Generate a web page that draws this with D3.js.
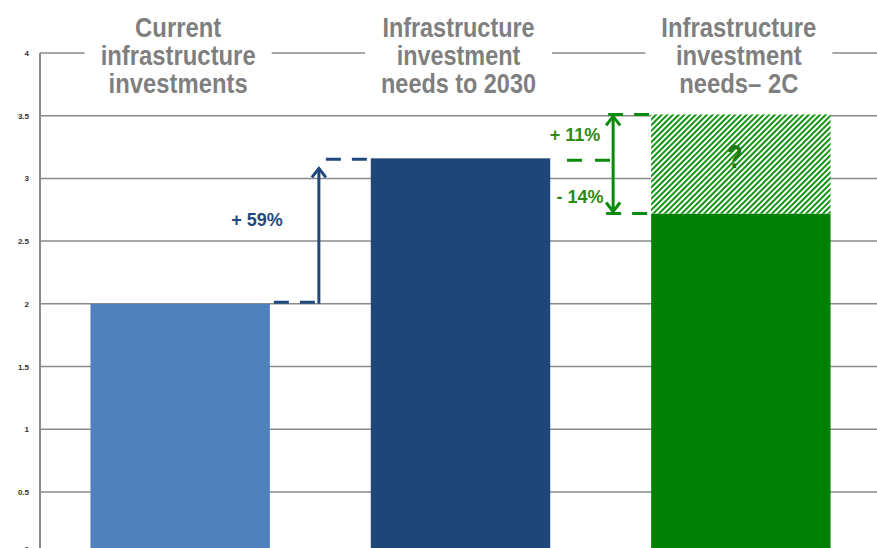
<!DOCTYPE html>
<html><head><meta charset="utf-8">
<script src="https://cdn.jsdelivr.net/npm/d3@7/dist/d3.min.js"></script>
<style>body{margin:0;background:#fff}svg{display:block}</style>
</head><body>
<svg id="chart" width="877" height="548"></svg>
<script>
// ---- data ----
const categories = ["Current infrastructure investments", "Infrastructure investment needs to 2030", "Infrastructure investment needs– 2C"];
const categoryLines = [["Current", "infrastructure", "investments"], ["Infrastructure", "investment", "needs to 2030"], ["Infrastructure", "investment", "needs– 2C"]];
const values = [2.0, 3.16, 2.72];
const rangeTop = [null, null, 3.51];
const yTicks = [0, 0.5, 1, 1.5, 2, 2.5, 3, 3.5, 4];
const yTickLabels = ["0", "0.5", "1", "1.5", "2", "2.5", "3", "3.5", "4"];
const changeLabels = ["+ 59%", "+ 11%", "- 14%"];
const barColors = ["#4F81BD", "#1F4679", "#008000"];

const W = 877, H = 548;
const svg = d3.select("#chart");
const x = d3.scaleBand().domain(categories).range([40, 881]).paddingInner(0.36).paddingOuter(0.18);
const y = d3.scaleLinear().domain([0, 4]).range([554.6, 53]);
const bw = x.bandwidth();
const FONT = "Liberation Sans, Arial, sans-serif";

// hatch pattern
const defs = svg.append("defs");
const pat = defs.append("pattern").attr("id", "hatch").attr("patternUnits", "userSpaceOnUse")
  .attr("width", 4).attr("height", 4).attr("patternTransform", "rotate(45)");
pat.append("rect").attr("width", 4).attr("height", 4).attr("fill", "#ffffff");
pat.append("rect").attr("width", 2).attr("height", 4).attr("fill", "#139313");

// gridlines
svg.append("g").selectAll("line").data(yTicks).join("line")
  .attr("x1", 40).attr("x2", W).attr("y1", d => y(d)).attr("y2", d => y(d))
  .attr("stroke", "#8a8a8a").attr("stroke-width", 1.5);
// axis line
svg.append("line").attr("x1", 40).attr("x2", 40).attr("y1", y(4)).attr("y2", H)
  .attr("stroke", "#8a8a8a").attr("stroke-width", 2);
// tick labels
svg.append("g").selectAll("text").data(yTicks).join("text")
  .attr("x", 29).attr("y", d => Math.min(y(d) + 3, 552)).attr("text-anchor", "end")
  .attr("font-family", FONT).attr("font-weight", "bold")
  .attr("font-size", 8).attr("fill", "#333")
  .text((d, i) => yTickLabels[i]);

// bars
svg.append("g").selectAll("rect").data(categories).join("rect")
  .attr("x", d => x(d)).attr("width", bw)
  .attr("y", (d, i) => y(values[i])).attr("height", (d, i) => y(0) - y(values[i]))
  .attr("fill", (d, i) => barColors[i]);
// uncertainty hatch
categories.forEach((c, i) => {
  if (rangeTop[i] == null) return;
  svg.append("rect").attr("x", x(c)).attr("width", bw)
    .attr("y", y(rangeTop[i])).attr("height", y(values[i]) - y(rangeTop[i]))
    .attr("fill", "url(#hatch)");
  svg.append("text")
    .attr("transform", `translate(${x(c) + bw / 2 - 6},${(y(rangeTop[i]) + y(values[i])) / 2 + 4}) scale(0.75,1)`)
    .attr("text-anchor", "middle").attr("font-family", FONT)
    .attr("font-weight", "bold").attr("font-size", 34).attr("fill", "#1d7a12").text("?");
});

// ---- annotations ----
const blue = "#1F497D", green = "#0c8a0c", greenText = "#2f8a12";
const dash = "15,11";
function chevron(cx, tipY, dir, color) {
  svg.append("path").attr("d", `M${cx - 7},${tipY - dir * 9} L${cx},${tipY} L${cx + 7},${tipY - dir * 9}`)
    .attr("fill", "none").attr("stroke", color).attr("stroke-width", 3);
}
// blue +59%
const x0r = x(categories[0]) + bw;
const ax = x0r + 49;
const yA = y(values[0]) - 1.5, yB = y(values[1]) + 1;
svg.append("line").attr("x1", x0r + 4).attr("x2", ax).attr("y1", yA).attr("y2", yA)
  .attr("stroke", blue).attr("stroke-width", 3).attr("stroke-dasharray", dash);
svg.append("line").attr("x1", ax).attr("x2", ax).attr("y1", yA + 1.5).attr("y2", yB + 9)
  .attr("stroke", blue).attr("stroke-width", 3);
chevron(ax, yB + 9, -1, blue);
svg.append("line").attr("x1", ax + 7).attr("x2", x(categories[1])).attr("y1", yB).attr("y2", yB)
  .attr("stroke", blue).attr("stroke-width", 3).attr("stroke-dasharray", dash);
svg.append("text").attr("x", 257).attr("y", 226).attr("text-anchor", "middle")
  .attr("font-family", FONT).attr("font-weight", "bold")
  .attr("font-size", 18).attr("fill", blue).text(changeLabels[0]);

// green +11% / -14%
const x2l = x(categories[2]);
const gx = x2l - 38;
const yT = y(rangeTop[2]), yM = y(values[1]) + 2, yL = y(values[2]);
svg.append("line").attr("x1", gx - 5).attr("x2", x2l - 2).attr("y1", yT).attr("y2", yT)
  .attr("stroke", green).attr("stroke-width", 3).attr("stroke-dasharray", dash);
svg.append("line").attr("x1", gx - 7).attr("x2", x2l - 2).attr("y1", yL).attr("y2", yL)
  .attr("stroke", green).attr("stroke-width", 3).attr("stroke-dasharray", dash);
svg.append("line").attr("x1", 567).attr("x2", gx).attr("y1", yM).attr("y2", yM)
  .attr("stroke", green).attr("stroke-width", 3).attr("stroke-dasharray", "15,13");
svg.append("line").attr("x1", gx).attr("x2", gx).attr("y1", yT + 2).attr("y2", yL - 2)
  .attr("stroke", green).attr("stroke-width", 3);
chevron(gx, yT + 2, -1, green);
chevron(gx, yL - 2, 1, green);
svg.append("text").attr("x", 575).attr("y", 141).attr("text-anchor", "middle")
  .attr("font-family", FONT).attr("font-weight", "bold")
  .attr("font-size", 18).attr("fill", greenText).text(changeLabels[1]);
svg.append("text").attr("x", 580).attr("y", 203).attr("text-anchor", "middle")
  .attr("font-family", FONT).attr("font-weight", "bold")
  .attr("font-size", 18).attr("fill", greenText).text(changeLabels[2]);

// ---- top category labels (horizontally condensed, as in the source) ----
const targetWidth = 155;
categories.forEach((c, i) => {
  const cx = x(c) + bw / 2 - 2;
  const outer = svg.append("g");
  const bg = outer.append("rect").attr("fill", "#fff");
  const g = outer.append("g");
  const t = g.append("text").attr("text-anchor", "middle")
    .attr("font-family", FONT).attr("font-weight", "bold")
    .attr("font-size", 28).attr("fill", "#7f7f7f");
  categoryLines[i].forEach((ln, k) => {
    t.append("tspan").attr("x", 0).attr("y", 37 + k * 27.8).text(ln);
  });
  const bb0 = t.node().getBBox();
  const sx = targetWidth / bb0.width;
  g.attr("transform", `translate(${cx},0) scale(${sx},1)`);
  const w = bb0.width * sx;
  bg.attr("x", cx - w / 2 - 16).attr("width", w + 32).attr("y", 45).attr("height", 16);
});
</script>
</body></html>
